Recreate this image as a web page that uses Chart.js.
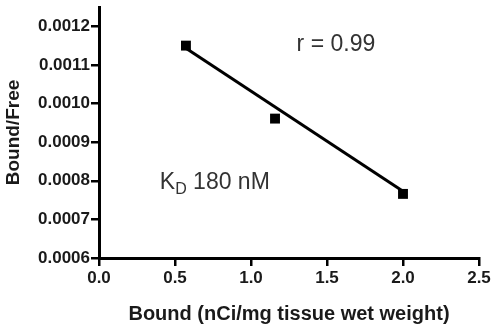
<!DOCTYPE html>
<html>
<head>
<meta charset="utf-8">
<script src="https://cdn.jsdelivr.net/npm/chart.js@4/dist/chart.umd.min.js"></script>
<style>
html,body{margin:0;padding:0;background:#fff;}
#wrap{width:498px;height:330px;}
</style>
</head>
<body>
<div id="wrap"><canvas id="c" width="498" height="330"></canvas></div>
<script>
// Data
const boundX = [0.572, 1.158, 2.0];
const boundFreeY = [0.00115, 0.000961, 0.000766];
const fitX = [0.572, 2.0];
const fitY = [0.001143, 0.000773];
const xTicks = [0.0, 0.5, 1.0, 1.5, 2.0, 2.5];
const yTicks = [0.0006, 0.0007, 0.0008, 0.0009, 0.0010, 0.0011, 0.0012];
const rText = 'r = 0.99';
const kdMain = 'K', kdSub = 'D', kdRest = ' 180 nM';

const FONT = '"Liberation Sans", Arial, Helvetica, sans-serif';

const annot = {
  id: 'annot',
  afterDraw(chart) {
    const ctx = chart.ctx, xs = chart.scales.x, ys = chart.scales.y;
    ctx.save();
    ctx.fillStyle = '#333';
    ctx.textBaseline = 'middle';
    ctx.textAlign = 'left';
    ctx.font = '23px ' + FONT;
    ctx.fillText(rText, xs.getPixelForValue(1.30), ys.getPixelForValue(0.001153));
    let px = xs.getPixelForValue(0.40), py = ys.getPixelForValue(0.000795);
    ctx.font = '23px ' + FONT;
    ctx.fillText(kdMain, px, py);
    px += ctx.measureText(kdMain).width;
    ctx.font = '16px ' + FONT;
    ctx.fillText(kdSub, px, py + 7);
    px += ctx.measureText(kdSub).width;
    ctx.font = '23px ' + FONT;
    ctx.fillText(kdRest, px, py);
    ctx.restore();
  }
};

new Chart(document.getElementById('c'), {
  type: 'scatter',
  data: {
    datasets: [
      {
        label: 'fit',
        data: fitX.map((x, i) => ({x, y: fitY[i]})),
        showLine: true,
        borderColor: '#000',
        borderWidth: 3,
        pointRadius: 0,
        fill: false
      },
      {
        label: 'data',
        data: boundX.map((x, i) => ({x, y: boundFreeY[i]})),
        pointStyle: 'rect',
        pointRadius: 7,
        backgroundColor: '#000',
        borderColor: '#000',
        borderWidth: 0
      }
    ]
  },
  options: {
    responsive: false,
    animation: false,
    devicePixelRatio: 1,
    layout: {padding: {left: 0, top: 5, right: 19, bottom: 0}},
    plugins: {legend: {display: false}, tooltip: {enabled: false}},
    scales: {
      x: {
        type: 'linear', min: 0, max: 2.5,
        afterBuildTicks: s => { s.ticks = xTicks.map(v => ({value: v})); },
        afterFit: s => { s.height = 72; },
        grid: {display: true, drawOnChartArea: false, drawTicks: true, tickLength: 8, color: '#000', lineWidth: 2.5},
        border: {display: true, color: '#000', width: 3},
        ticks: {color: '#1a1a1a', font: {family: FONT, size: 17, weight: 'bold'}, padding: 2,
                maxRotation: 0, callback: v => Number(v).toFixed(1)},
        title: {display: true, text: 'Bound (nCi/mg tissue wet weight)', color: '#1a1a1a',
                font: {family: FONT, size: 20, weight: 'bold'}, padding: {top: 6, bottom: 4}}
      },
      y: {
        type: 'linear', min: 0.0006, max: 0.00125,
        afterBuildTicks: s => { s.ticks = yTicks.map(v => ({value: v})); },
        afterFit: s => { s.width = 99; s.paddingTop = 0; s.paddingBottom = 0; },
        grid: {display: true, drawOnChartArea: false, drawTicks: true, tickLength: 8, color: '#000', lineWidth: 2.5},
        border: {display: true, color: '#000', width: 3},
        ticks: {color: '#1a1a1a', font: {family: FONT, size: 17, weight: 'bold'}, padding: 1,
                callback: v => Number(v).toFixed(4)},
        title: {display: true, text: 'Bound/Free', color: '#1a1a1a',
                font: {family: FONT, size: 19, weight: 'bold'}, padding: {top: 2, bottom: 0}}
      }
    }
  },
  plugins: [annot]
});
</script>
</body>
</html>
